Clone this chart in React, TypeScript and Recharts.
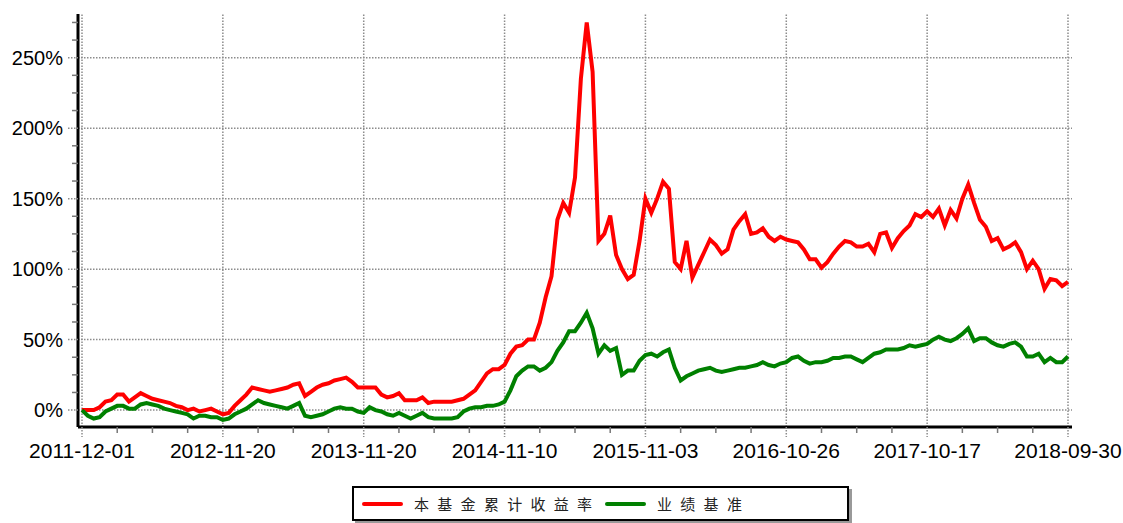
import { Line, LineChart, ReferenceLine, XAxis, YAxis } from 'recharts';

// cumulative return, % — one point per ~1/24 of a year-tick interval
const fundReturn = [
  0, 0, 0, 2, 6, 7, 11, 11, 6, 9, 12, 10, 8, 7, 6, 5, 3, 2, 0, 1, -1, 0, 1, -1,
  -3, -2, 3, 7, 11, 16, 15, 14, 13, 14, 15, 16, 18, 19, 10, 13, 16, 18, 19, 21, 22, 23, 20, 16,
  16, 16, 16, 11, 9, 10, 12, 7, 7, 7, 9, 5, 6, 6, 6, 6, 7, 8, 11, 14, 20, 26, 29, 29,
  32, 40, 45, 46, 50, 50, 62, 80, 95, 135, 147, 140, 165, 235, 275, 240, 120, 125, 138, 110, 100, 93, 96, 120,
  150, 140, 150, 162, 157, 105, 100, 120, 94, 103, 112, 121, 117, 111, 114, 128, 134, 139, 125, 126, 129, 123, 120, 123,
  121, 120, 119, 114, 107, 107, 101, 105, 111, 116, 120, 119, 116, 116, 118, 112, 125, 126, 115, 122, 127, 131, 139, 137,
  141, 137, 143, 131, 142, 136, 150, 160, 147, 135, 130, 120, 122, 114, 116, 119, 112, 100, 106, 100, 86, 93, 92, 88,
  91,
];

const benchReturn = [
  0, -4, -6, -5, -1, 1, 3, 3, 1, 1, 4, 5, 4, 3, 1, 0, -1, -2, -3, -6, -4, -4, -5, -5,
  -7, -6, -3, -1, 1, 4, 7, 5, 4, 3, 2, 1, 3, 5, -4, -5, -4, -3, -1, 1, 2, 1, 1, -1,
  -2, 2, 0, -1, -3, -4, -2, -4, -6, -4, -2, -5, -6, -6, -6, -6, -5, -1, 1, 2, 2, 3, 3, 4,
  6, 14, 24, 28, 31, 31, 28, 30, 34, 42, 48, 56, 56, 62, 69, 58, 40, 46, 42, 44, 25, 28, 28, 35,
  39, 40, 38, 41, 43, 30, 21, 24, 26, 28, 29, 30, 28, 27, 28, 29, 30, 30, 31, 32, 34, 32, 31, 33,
  34, 37, 38, 35, 33, 34, 34, 35, 37, 37, 38, 38, 36, 34, 37, 40, 41, 43, 43, 43, 44, 46, 45, 46,
  47, 50, 52, 50, 49, 51, 54, 58, 49, 51, 51, 48, 46, 45, 47, 48, 45, 38, 38, 40, 34, 37, 34, 34,
  38,
];

const dateLabels = [
  '2011-12-01', '2012-11-20', '2013-11-20', '2014-11-10',
  '2015-11-03', '2016-10-26', '2017-10-17', '2018-09-30',
];

const yMajorTicks = [0, 50, 100, 150, 200, 250];

const fundName = '本基金累计收益率';
const benchName = '业绩基准';

const STEPS_PER_LABEL = 24;
const data = fundReturn.map((v, i) => ({ i, fund: v, bench: benchReturn[i] }));
const lastIdx = fundReturn.length - 1;
const xTicks: number[] = [];
for (let t = 0; t <= lastIdx; t += STEPS_PER_LABEL / 4) xTicks.push(t);
const yTicks: number[] = [];
for (let t = 0; t <= 275; t += 12.5) yTicks.push(t);
const xMajor = dateLabels.map((_, k) => k * STEPS_PER_LABEL);

const FONT = '"Liberation Sans", Arial, sans-serif';
const GRID = '#8c8c8c';

function XTick(props: any) {
  const { x, y, payload } = props;
  const major = payload.value % STEPS_PER_LABEL === 0;
  if (!major) return <line x1={x} x2={x} y1={y} y2={y + 6} stroke="#777" strokeWidth={1.5} />;
  return (
    <g>
      <line x1={x} x2={x} y1={y} y2={y + 10} stroke={GRID} strokeWidth={1.5} strokeDasharray="1.5 1.5" />
      <text x={x} y={y + 31} textAnchor="middle" fontSize={21} fontFamily={FONT} fill="#000">
        {dateLabels[payload.value / STEPS_PER_LABEL]}
      </text>
    </g>
  );
}

function YTick(props: any) {
  const { x, y, payload } = props;
  const major = payload.value % 50 === 0;
  if (!major) return <line x1={x - 6} x2={x} y1={y} y2={y} stroke="#777" strokeWidth={1.5} />;
  return (
    <g>
      <line x1={x - 10} x2={x} y1={y} y2={y} stroke={GRID} strokeWidth={1.5} strokeDasharray="1.5 1.5" />
      <text x={x - 15} y={y + 7} textAnchor="end" fontSize={20} fontFamily={FONT} fill="#000">
        {payload.value}%
      </text>
    </g>
  );
}

function LegendBox() {
  const item = (color: string, label: string, left: number) => (
    <div style={{ position: 'absolute', left, top: 0, height: 31, display: 'flex', alignItems: 'center' }}>
      <div style={{ width: 41, height: 4, borderRadius: 2, background: color }} />
      <span
        style={{
          marginLeft: 11,
          fontSize: 15,
          letterSpacing: '8.3px',
          fontFamily: '"Noto Sans CJK SC", sans-serif',
          color: '#222',
        }}
      >
        {label}
      </span>
    </div>
  );
  return (
    <div
      style={{
        position: 'absolute',
        left: 352,
        top: 486,
        width: 497,
        height: 35,
        boxSizing: 'border-box',
        border: '2px solid #000',
        boxShadow: '3px 3px 0 #999',
        background: '#fff',
      }}
    >
      {item('#ff0000', fundName, 8)}
      {item('#008000', benchName, 251)}
    </div>
  );
}

export default function App() {
  return (
    <div style={{ position: 'absolute', left: 0, top: 0, width: 1123, height: 523, background: '#fff' }}>
      <LineChart width={1123} height={470} data={data} margin={{ top: 14, right: 51, left: 0, bottom: 0 }}>
        <XAxis
          type="number"
          dataKey="i"
          domain={[0, lastIdx]}
          ticks={xTicks}
          interval={0}
          padding={{ left: 4, right: 4 }}
          height={43}
          axisLine={{ stroke: '#000', strokeWidth: 3 }}
          tickLine={false}
          tickSize={0}
          tickMargin={0}
          tick={XTick}
        />
        <YAxis
          type="number"
          domain={[-12, 281]}
          ticks={yTicks}
          interval={0}
          width={78}
          allowDataOverflow
          axisLine={{ stroke: '#000', strokeWidth: 3 }}
          tickLine={false}
          tickSize={0}
          tickMargin={0}
          tick={YTick}
        />
        {yMajorTicks.map((v) => (
          <ReferenceLine key={'h' + v} y={v} stroke={GRID} strokeWidth={1.5} strokeDasharray="1.5 1.5" />
        ))}
        {xMajor.map((v) => (
          <ReferenceLine key={'v' + v} x={v} stroke={GRID} strokeWidth={1.5} strokeDasharray="1.5 1.5" />
        ))}
        <Line type="linear" dataKey="fund" name={fundName} stroke="#ff0000" strokeWidth={4} dot={false} isAnimationActive={false} />
        <Line type="linear" dataKey="bench" name={benchName} stroke="#008000" strokeWidth={4} dot={false} isAnimationActive={false} />
      </LineChart>
      <LegendBox />
    </div>
  );
}
